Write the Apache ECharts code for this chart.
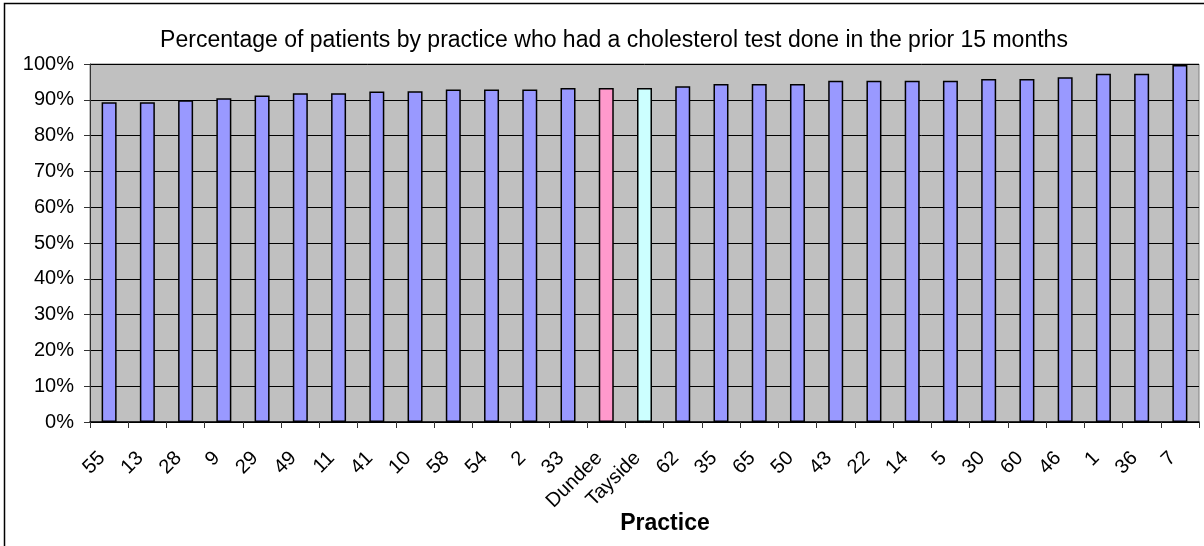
<!DOCTYPE html>
<html>
<head>
<meta charset="utf-8">
<script src="https://cdn.jsdelivr.net/npm/echarts@6/dist/echarts.min.js"></script>
<style>
  html, body { margin: 0; padding: 0; background: #fff; }
  #chart { width: 1204px; height: 546px; }
</style>
</head>
<body>
<div id="chart"></div>
<script>
// practices, sorted by rate
var practices = ['55', '13', '28', '9', '29', '49', '11', '41', '10', '58', '54', '2', '33',
  'Dundee', 'Tayside', '62', '35', '65', '50', '43', '22', '14', '5', '30', '60', '46', '1', '36', '7'];
var rates = [89.3, 89.3, 89.9, 90.4, 91.2, 91.8, 91.8, 92.3, 92.4, 92.9, 92.9, 92.9, 93.3,
  93.3, 93.3, 93.8, 94.4, 94.4, 94.4, 95.3, 95.3, 95.3, 95.3, 95.8, 95.8, 96.3, 97.3, 97.3, 99.7];
var yTicks = [0, 10, 20, 30, 40, 50, 60, 70, 80, 90, 100];

var barColor = '#9999ff';
var specialColors = { 'Dundee': '#ff99cc', 'Tayside': '#ccffff' };

var chart = echarts.init(document.getElementById('chart'));

var barData = rates.map(function (v, i) {
  var c = specialColors[practices[i]] || barColor;
  return { value: v, itemStyle: { color: c } };
});

chart.setOption({
  backgroundColor: '#fff',
  animation: false,
  textStyle: { fontFamily: 'Liberation Sans, Arial, sans-serif' },
  title: [{
    text: 'Percentage of patients by practice who had a cholesterol test done in the prior 15 months',
    left: 609,
    top: 24,
    textAlign: 'center',
    textStyle: { color: '#000', fontSize: 23, fontWeight: 'normal' }
  }, {
    text: 'Practice',
    left: 660,
    top: 507,
    textAlign: 'center',
    textStyle: { color: '#000', fontSize: 23, fontWeight: 'bold' }
  }],
  graphic: [{
    type: 'rect',
    shape: { x: 4.5, y: 3.5, width: 1230, height: 600 },
    style: { fill: 'none', stroke: '#000', lineWidth: 1.5 },
    silent: true
  }],
  grid: {
    left: 90,
    right: 5,
    top: 64,
    bottom: 124,
    show: true,
    backgroundColor: '#c0c0c0',
    borderColor: '#808080',
    borderWidth: 1
  },
  xAxis: {
    type: 'category',
    data: practices,
    axisLine: { lineStyle: { color: '#000', width: 1.5 } },
    axisTick: { show: true, length: 6, lineStyle: { color: '#333' } },
    axisLabel: {
      interval: 0,
      rotate: 45,
      margin: 26,
      padding: [0, 10, 0, 0],
      color: '#000',
      fontSize: 20
    },
    splitLine: { show: false }
  },
  yAxis: {
    type: 'value',
    min: 0,
    max: 100,
    interval: 10,
    axisLine: { show: true, lineStyle: { color: '#333' } },
    axisTick: { show: true, length: 6, lineStyle: { color: '#333' } },
    axisLabel: {
      margin: 16,
      color: '#000',
      fontSize: 20,
      formatter: function (v) { return yTicks.indexOf(v) >= 0 ? v + '%' : ''; }
    },
    splitLine: { show: true, lineStyle: { color: '#000', width: 1 } }
  },
  series: [{
    type: 'bar',
    data: barData,
    barWidth: 15,
    itemStyle: { borderColor: '#000', borderWidth: 1.5 }
  }]
});
</script>
</body>
</html>
